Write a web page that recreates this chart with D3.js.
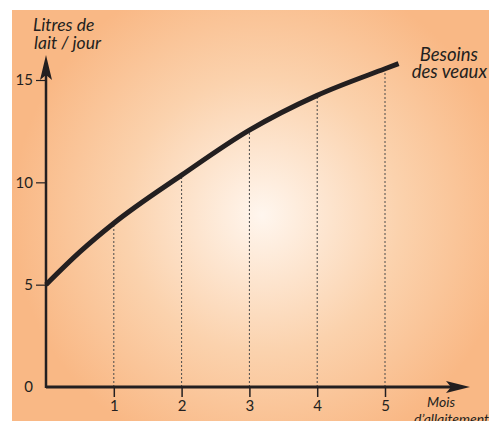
<!DOCTYPE html>
<html>
<head>
<meta charset="utf-8">
<script src="https://cdn.jsdelivr.net/npm/d3@7"></script>
<style>
  body { margin: 0; background: #fff; }
  svg text { font-family: Lato, "Open Sans", sans-serif; fill: #231f20; }
</style>
</head>
<body>
<svg id="chart" width="489" height="421"></svg>
<script>
// values
var months = [0, 0.5, 1, 2, 3, 4, 5, 5.2];
var litres = [5.0, 6.6, 8.0, 10.35, 12.55, 14.25, 15.55, 15.8];
var guideMonths = [1, 2, 3, 4, 5];
var yTicks = [0, 5, 10, 15];

var svg = d3.select("#chart");

// background gradient
var defs = svg.append("defs");
var grad = defs.append("radialGradient")
    .attr("id", "bg")
    .attr("gradientUnits", "userSpaceOnUse")
    .attr("cx", 262).attr("cy", 215).attr("r", 250);
grad.append("stop").attr("offset", "0").attr("stop-color", "#fff6ee");
grad.append("stop").attr("offset", "0.55").attr("stop-color", "#fbd2ad");
grad.append("stop").attr("offset", "1").attr("stop-color", "#f9b885");

svg.append("rect")
    .attr("x", 12).attr("y", 10)
    .attr("width", 477).attr("height", 411)
    .attr("fill", "url(#bg)");

var x = d3.scaleLinear().domain([0, 5]).range([46, 385]);
var y = d3.scaleLinear().domain([0, 15]).range([387, 80]);

var points = months.map(function (m, i) { return {m: m, v: litres[i]}; });

// dotted guides from the x axis up to the curve
svg.append("g").selectAll("line")
    .data(guideMonths)
    .join("line")
    .attr("x1", function (d) { return x(d); })
    .attr("x2", function (d) { return x(d); })
    .attr("y1", y(0))
    .attr("y2", function (d) { return y(litres[months.indexOf(d)]); })
    .attr("stroke", "#4a4a4a")
    .attr("stroke-width", 1)
    .attr("stroke-dasharray", "2,2");

// x axis
var xAxis = svg.append("g")
    .attr("transform", "translate(0," + y(0) + ")")
    .call(d3.axisBottom(x).tickValues(guideMonths).tickSize(10).tickSizeOuter(0).tickPadding(3).tickFormat(d3.format("d")));
xAxis.select(".domain").remove();
xAxis.selectAll(".tick line").attr("stroke", "#231f20").attr("stroke-width", 1.5);
xAxis.selectAll(".tick text").attr("font-size", 15).attr("fill", "#231f20");

// y axis
var yAxis = svg.append("g")
    .attr("transform", "translate(" + x(0) + ",0)")
    .call(d3.axisLeft(y).tickValues(yTicks).tickSize(10).tickSizeOuter(0).tickPadding(3).tickFormat(d3.format("d")));
yAxis.select(".domain").remove();
yAxis.selectAll(".tick line").attr("stroke", "#231f20").attr("stroke-width", 1.2)
    .attr("display", function (d) { return d === 0 ? "none" : null; });
yAxis.selectAll(".tick text").attr("font-size", 15).attr("fill", "#231f20");

// axis lines with arrows
svg.append("line")
    .attr("x1", x(0)).attr("x2", 452)
    .attr("y1", y(0)).attr("y2", y(0))
    .attr("stroke", "#231f20").attr("stroke-width", 3);
svg.append("path")
    .attr("d", "M470," + y(0) + " L446," + (y(0) - 6) + " L451," + y(0) + " L446," + (y(0) + 6) + " Z")
    .attr("fill", "#231f20");

svg.append("line")
    .attr("x1", x(0)).attr("x2", x(0))
    .attr("y1", y(0) + 1).attr("y2", 74)
    .attr("stroke", "#231f20").attr("stroke-width", 2.5);
svg.append("path")
    .attr("d", "M" + x(0) + ",55 L" + (x(0) + 6) + ",80 L" + x(0) + ",75 L" + (x(0) - 6) + ",80 Z")
    .attr("fill", "#231f20");

// curve
svg.append("path")
    .datum(points)
    .attr("fill", "none")
    .attr("stroke", "#231f20")
    .attr("stroke-width", 5)
    .attr("d", d3.line()
        .x(function (d) { return x(d.m); })
        .y(function (d) { return y(d.v); })
        .curve(d3.curveMonotoneX));

// labels
function label(txt, px, py, size, anchor) {
    svg.append("text")
        .attr("x", px).attr("y", py)
        .attr("font-size", size)
        .attr("font-style", "italic")
        .attr("text-anchor", anchor || "start")
        .text(txt);
}
label("Litres de", 33, 31, 17.5);
label("lait / jour", 34, 49, 17.5);
label("Besoins", 478, 61, 18.5, "end");
label("des veaux", 487, 78, 18.5, "end");
label("Mois", 455, 407, 14, "end");
label("d’allaitement", 489, 424, 14, "end");
</script>
</body>
</html>
